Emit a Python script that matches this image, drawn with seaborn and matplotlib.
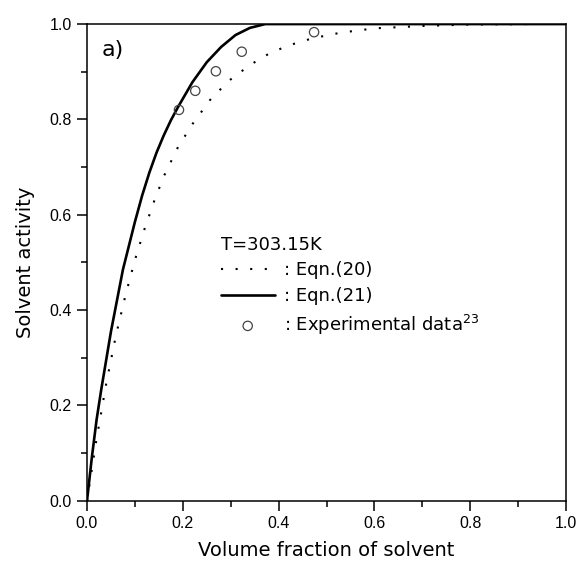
import matplotlib
matplotlib.use("Agg")
import matplotlib.pyplot as plt
import seaborn as sns
from matplotlib.ticker import MultipleLocator

# Eqn.(20) - dotted curve
eq20_x = [0, 0.02, 0.04, 0.06, 0.08, 0.10, 0.12, 0.14, 0.16, 0.19, 0.22, 0.26,
          0.30, 0.34, 0.38, 0.42, 0.47, 0.53, 0.60, 0.70, 0.80, 0.93]
eq20_y = [0, 0.13, 0.245, 0.345, 0.43, 0.505, 0.57, 0.628, 0.68, 0.742, 0.79, 0.845,
          0.884, 0.914, 0.938, 0.955, 0.970, 0.982, 0.991, 0.996, 0.999, 1.0]

# Eqn.(21) - solid curve
eq21_x = [0, 0.01, 0.02, 0.03, 0.05, 0.075, 0.10, 0.115, 0.13, 0.145, 0.16, 0.175,
          0.19, 0.22, 0.25, 0.28, 0.31, 0.34, 0.372, 1.0]
eq21_y = [0, 0.09, 0.17, 0.235, 0.355, 0.485, 0.585, 0.64, 0.688, 0.73, 0.766, 0.798,
          0.826, 0.878, 0.92, 0.952, 0.977, 0.992, 1.0, 1.0]

# experimental data
exp_x = [0.192, 0.226, 0.269, 0.323, 0.474]
exp_y = [0.820, 0.860, 0.901, 0.942, 0.983]

sns.set_style("ticks", {"axes.edgecolor": "black", "xtick.color": "black",
                        "ytick.color": "black", "text.color": "black",
                        "axes.labelcolor": "black"})
plt.rcParams['font.family'] = ['DejaVu Sans']
plt.rcParams['mathtext.default'] = 'regular'

fig = plt.figure(figsize=(5.8, 5.73), dpi=100)
ax = fig.add_axes([0.150, 0.126, 0.826, 0.832])

sns.lineplot(x=eq20_x, y=eq20_y, ax=ax, color="black", lw=1.5,
             linestyle=(0, (1, 6)), label=": Eqn.(20)")
sns.lineplot(x=eq21_x, y=eq21_y, ax=ax, color="black", lw=1.9,
             label=": Eqn.(21)")
sns.scatterplot(x=exp_x, y=exp_y, ax=ax, marker="o", s=45,
                facecolor="none", edgecolor="#444444", linewidth=0.9,
                label=": Experimental data$^{23}$", zorder=5)

ax.set_xlim(0, 1)
ax.set_ylim(0, 1)
ax.xaxis.set_major_locator(MultipleLocator(0.2))
ax.xaxis.set_minor_locator(MultipleLocator(0.1))
ax.yaxis.set_major_locator(MultipleLocator(0.2))
ax.yaxis.set_minor_locator(MultipleLocator(0.1))
ax.tick_params(which="major", length=7, width=1.1, pad=4, labelsize=11.5)
ax.tick_params(which="minor", length=4, width=1.1)
for lab in ax.get_xticklabels() + ax.get_yticklabels():
    lab.set_fontfamily("Liberation Sans")
for sp in ax.spines.values():
    sp.set_linewidth(1.1)

ax.set_xlabel("Volume fraction of solvent", fontsize=14, labelpad=7)
ax.set_ylabel("Solvent activity", fontsize=14, labelpad=10)

ax.text(0.031, 0.945, "a)", fontsize=16, va="center", ha="left")

leg = ax.legend(title="T=303.15K", loc="upper left", bbox_to_anchor=(0.245, 0.59),
                frameon=False, fontsize=13, title_fontsize=13, handlelength=3.0,
                handletextpad=0.5, labelspacing=0.42, alignment="left")

fig.savefig("out.png", dpi=100)
